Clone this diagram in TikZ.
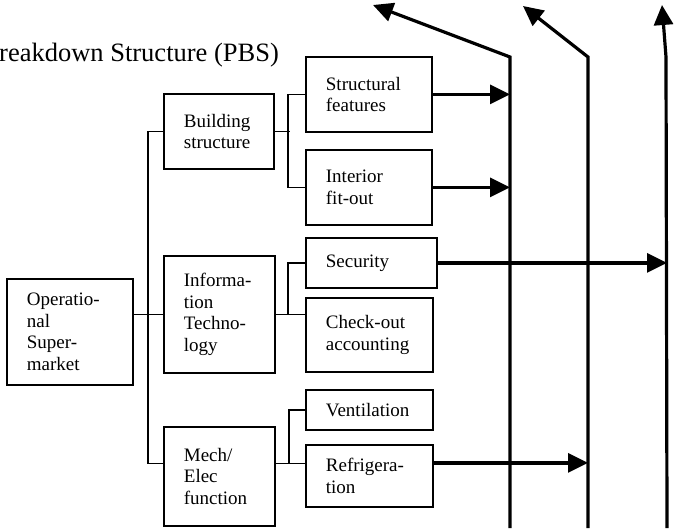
\documentclass[tikz,border=0pt]{standalone}
\usepackage{fontspec}
\setmainfont{Liberation Serif}
\usetikzlibrary{arrows.meta}

\begin{document}
\begin{tikzpicture}[x=1pt,y=-1pt,
box/.style={draw,line width=1.8pt,inner xsep=20pt,inner ysep=0pt,align=left,anchor=north west,font=\fontsize{19}{21.5}\selectfont},
link/.style={line width=1.8pt},
flow/.style={line width=3.2pt,-{Triangle[length=20pt,width=19pt]}}]
\useasboundingbox (0,0) rectangle (677,528);
\node[anchor=base west,inner sep=0pt,font=\fontsize{26.5}{30}\selectfont] (title) at (-1,61) {reakdown Structure (PBS)};
\node[box,minimum width=126pt,minimum height=106pt,text width=86pt] (op) at (6,278) {Operatio-\\nal\\Super-\\market};
\node[box,minimum width=110pt,minimum height=75pt,text width=70pt] (bs) at (163,93) {Building\\structure};
\node[box,minimum width=111pt,minimum height=117pt,text width=71pt] (it) at (163,255) {Informa-\\tion\\Techno-\\logy};
\node[box,minimum width=111pt,minimum height=99pt,text width=71pt] (me) at (163,426) {Mech/\\Elec\\function};
\node[box,minimum width=126pt,minimum height=75pt,text width=86pt] (sf) at (305,56) {Structural\\features};
\node[box,minimum width=126pt,minimum height=75pt,text width=86pt] (fo) at (305,149) {Interior\\fit-out};
\node[box,minimum width=131pt,minimum height=50pt,text width=91pt] (sec) at (305,237) {Security};
\node[box,minimum width=127pt,minimum height=74pt,text width=87pt] (co) at (305,297) {Check-out\\accounting};
\node[box,minimum width=127pt,minimum height=40pt,text width=87pt] (ve) at (305,389) {Ventilation};
\node[box,minimum width=127pt,minimum height=62pt,text width=87pt] (rf) at (305,444) {Refrigera-\\tion};
\coordinate (b1) at (510,528); \coordinate (k1) at (510,57); \coordinate (t1) at (373,5);
\coordinate (b2) at (588,528); \coordinate (k2) at (588,57); \coordinate (t2) at (523,6);
\coordinate (b3) at (667,528); \coordinate (k3) at (666,57); \coordinate (t3) at (662,5);
\draw[link] (op.east |- it.west) -- (it.west);
\draw[link] (bs.west) -- ++(-15,0) |- ([yshift=13pt]me.west);
\draw[link] (bs.east) -- ++(15,0);
\draw[link] (sf.west) -- ++(-17,0) |- (fo.west);
\draw[link] (it.east) -- (it.east -| co.west);
\draw[link] (sec.west) -- ++(-17,0) |- (it.east);
\draw[link] ([yshift=13pt]me.east) -- ([yshift=13pt]me.east -| rf.west);
\draw[link] (ve.west) -- ++(-16,0) |- ([yshift=13pt]me.east);
\draw[flow] (b1) -- (k1) -- (t1);
\draw[flow] (b2) -- (k2) -- (t2);
\draw[flow] (b3) -- (k3) -- (t3);
\draw[flow] (sf.east) -- (sf.east -| b1);
\draw[flow] (fo.east) -- (fo.east -| b1);
\draw[flow] (sec.east) -- (sec.east -| b3);
\draw[flow] ([yshift=13pt]rf.east) -- ([yshift=13pt]rf.east -| b2);
\end{tikzpicture}
\end{document}
